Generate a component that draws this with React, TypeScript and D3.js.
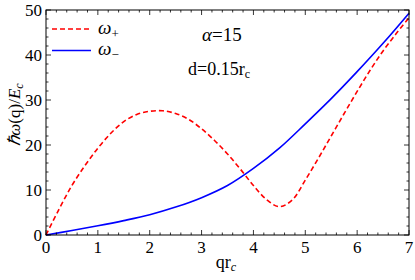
import * as d3 from "d3";
import * as React from "react";

// data
const qGrid = [0, 0.25, 0.5, 0.75, 1, 1.25, 1.5, 1.75, 2, 2.25, 2.5, 2.75, 3, 3.25, 3.5, 3.75, 4, 4.25, 4.5, 4.75, 5, 5.25, 5.5, 5.75, 6, 6.25, 6.5, 6.75, 7];
const wPlus = [0, 5.7, 11.0, 15.4, 19.3, 22.6, 25.2, 26.8, 27.5, 27.6, 27.0, 25.7, 23.6, 21.0, 18.0, 14.6, 11.0, 7.9, 6.3, 7.8, 12.2, 17.0, 22.0, 27.0, 31.9, 36.6, 40.9, 44.7, 48.3];
const qMinus = [0, 0.5, 1, 1.5, 2, 2.5, 3, 3.5, 4, 4.5, 5, 5.5, 6, 6.5, 7];
const wMinus = [0, 1.0, 2.05, 3.2, 4.5, 6.2, 8.3, 11.0, 14.8, 19.3, 24.7, 30.3, 36.3, 42.6, 49.3];
const xTicks = [0, 1, 2, 3, 4, 5, 6, 7];
const yTicks = [0, 10, 20, 30, 40, 50];

const W = 415, H = 280;
const mL = 46, mR = 6, mT = 10, mB = 45;
const FONT = "Times New Roman";

function T(props: any) {
  return <text fontFamily={FONT} style={{ fontFamily: FONT }} fill="black" {...props} />;
}

export default function App() {
  const x = d3.scaleLinear().domain([0, 7]).range([mL, W - mR]);
  const y = d3.scaleLinear().domain([0, 50]).range([H - mB, mT]);
  const line = d3.line<[number, number]>()
    .x(d => x(d[0]))
    .y(d => y(d[1]))
    .curve(d3.curveCatmullRom.alpha(0.5));
  const plus = line(qGrid.map((q, i) => [q, wPlus[i]]));
  const minus = line(qMinus.map((q, i) => [q, wMinus[i]]));

  const x0 = mL, x1 = W - mR, y0 = H - mB, y1 = mT;
  const xMinor = d3.range(0, 7.001, 0.2).filter(v => Math.abs(v - Math.round(v)) > 1e-6);
  const yMinor = d3.range(0, 50.001, 2).filter(v => v % 10 !== 0);
  const ticks: JSX.Element[] = [];
  xTicks.forEach((v, i) => {
    ticks.push(<line key={"xb" + i} x1={x(v)} x2={x(v)} y1={y0} y2={y0 - 5} />);
    ticks.push(<line key={"xt" + i} x1={x(v)} x2={x(v)} y1={y1} y2={y1 + 5} />);
  });
  xMinor.forEach((v, i) => {
    ticks.push(<line key={"xmb" + i} x1={x(v)} x2={x(v)} y1={y0} y2={y0 - 2.5} />);
    ticks.push(<line key={"xmt" + i} x1={x(v)} x2={x(v)} y1={y1} y2={y1 + 2.5} />);
  });
  yTicks.forEach((v, i) => {
    ticks.push(<line key={"yl" + i} x1={x0} x2={x0 + 5} y1={y(v)} y2={y(v)} />);
    ticks.push(<line key={"yr" + i} x1={x1} x2={x1 - 5} y1={y(v)} y2={y(v)} />);
  });
  yMinor.forEach((v, i) => {
    ticks.push(<line key={"yml" + i} x1={x0} x2={x0 + 2.5} y1={y(v)} y2={y(v)} />);
    ticks.push(<line key={"ymr" + i} x1={x1} x2={x1 - 2.5} y1={y(v)} y2={y(v)} />);
  });

  return (
    <svg width={W} height={H} style={{ position: "absolute", left: 0, top: 0 }}>
      <rect width={W} height={H} fill="white" />
      <path d={minus ?? ""} fill="none" stroke="#0000ff" strokeWidth={1.6} />
      <path d={plus ?? ""} fill="none" stroke="#ff0000" strokeWidth={1.6} strokeDasharray="5,3" />
      <g stroke="black" strokeWidth={0.8}>{ticks}</g>
      <rect x={x0} y={y1} width={x1 - x0} height={y0 - y1} fill="none" stroke="black" strokeWidth={1} />
      {xTicks.map(v => <T key={"xl" + v} fontSize={17} x={x(v)} y={y0 + 18} textAnchor="middle">{v}</T>)}
      {yTicks.map(v => <T key={"yl" + v} fontSize={17} x={x0 - 4} y={y(v) + 5.5} textAnchor="end">{v}</T>)}
      {/* legend */}
      <line x1={52} x2={91} y1={29} y2={29} stroke="#ff0000" strokeWidth={1.6} strokeDasharray="5,3" />
      <T x={98} y={34} fontSize={19}><tspan fontStyle="italic">ω</tspan><tspan fontSize={13} dy={4}>+</tspan></T>
      <line x1={52} x2={91} y1={50.5} y2={50.5} stroke="#0000ff" strokeWidth={1.6} />
      <T x={98} y={55} fontSize={19}><tspan fontStyle="italic">ω</tspan><tspan fontSize={13} dy={4}>−</tspan></T>
      <T x={202} y={41} fontSize={19}><tspan fontStyle="italic">α</tspan>=15</T>
      <T x={188} y={75} fontSize={18}>d=0.15r<tspan fontSize={12} dy={3}>c</tspan></T>
      {/* axis labels */}
      <T x={226} y={268} fontSize={18} textAnchor="middle">qr<tspan fontSize={12} dy={3} fontStyle="italic">c</tspan></T>
      <T transform={`translate(20,${(y0 + y1) / 2 - 8}) rotate(-90)`} fontSize={17} textAnchor="middle">
        <tspan fontStyle="italic">ℏω</tspan>(q)/<tspan fontStyle="italic">E</tspan><tspan fontSize={12} dy={3} fontStyle="italic">c</tspan>
      </T>
    </svg>
  );
}
